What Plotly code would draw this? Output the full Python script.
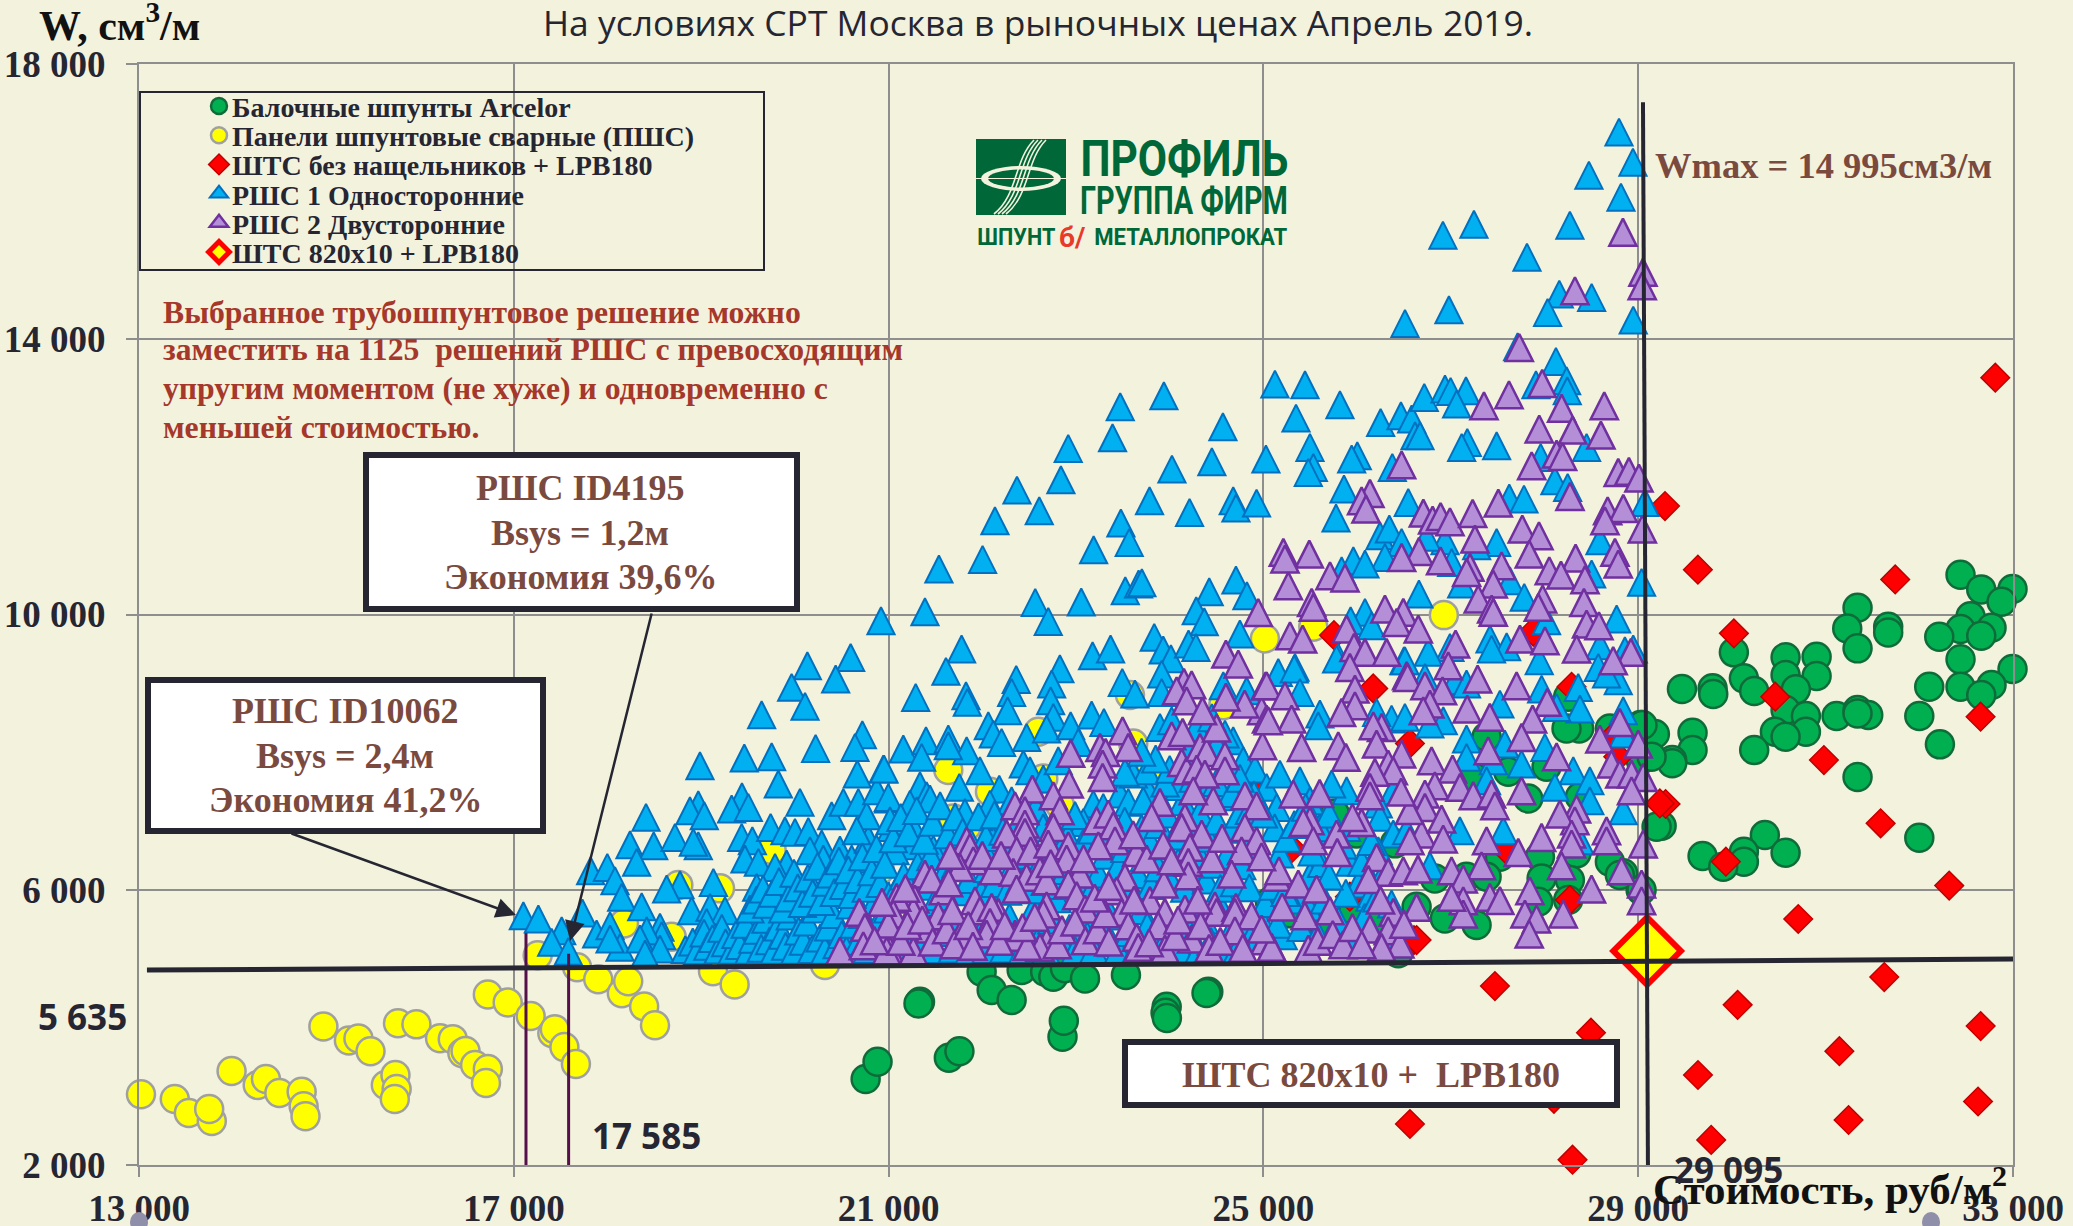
import plotly.graph_objects as go

# ---------- tick labels ----------
x_ticks = [13000, 17000, 21000, 25000, 29000, 33000]
x_labels = ["13 000", "17 000", "21 000", "25 000", "29 000", "33 000"]
y_ticks = [2000, 6000, 10000, 14000, 18000]
y_labels = ["2 000", "6 000", "10 000", "14 000", "18 000"]

# ---------- series values (cost, W) ----------
arcelor = [(32440,10578),(32661,10365),(32995,10370),(32878,10186),(32547,9974),(32771,9808),(32440,9789),(32661,9692),(32213,9677),(32440,9348),(32995,9207),(32440,8951),(32106,8951),(32771,8975),(32661,8830),(32000,8525),(32220,8113),
(31341,10099),(31231,9798),(31341,9508),(31668,9823),(31668,9740),(30573,9377),(30904,9387),(30573,9120),(30904,9106),(30021,9450),(30128,9072),(30238,8888),(30683,8912),(29794,8927),(29801,8844),(29467,8917),(30573,8612),(30790,8525),(30459,8297),(30790,8297),(30573,8224),(30238,8031),(31117,8525),(31341,8612),(31455,8539),(31341,8563),(31341,7638),(32000,6757),(30352,6796),(30573,6539),(30128,6553),(30128,6408),(29687,6491),(29908,6336),(29580,8282),(29580,8031),(29363,7885),(29363,7837),(29250,6931),(29026,7885),(29178,8263),(29026,8394),(28840,6239),(29026,5997),
(28370,8344),(28235,8344),(28698,8344),(29046,8393),(28253,8805),(27382,8223),(28022,7788),(27613,7715),(28378,7352),(27826,7327),(27239,7642),(26404,6674),(25994,6819),(25763,7109),(27524,6480),(27951,6480),(28342,6529),(28698,6407),(27168,6189),(27382,6189),(26830,6165),(27969,6165),(28271,6141),(28804,6214),(29036,5996),(27933,5826),(28253,5850),(27275,5487),(26937,5584),(26635,5753),(25959,5705),(26190,5560),(25070,5826),(25283,5657),(25621,5535),(26439,5076),(29196,6916),(29143,7933),
(21993,4809),(22100,4543),(22420,4833),(22671,4809),(22758,4737),(22882,4858),(23096,4712),(23533,4761),(24412,4518),(21335,4373),(22313,4397),(23968,4300),(20755,3250),(20882,3500),(21319,4346),(21643,3558),(21756,3654),(22856,3865),(22870,4096),(23956,4211),(23970,4135),(24393,4500),(24703,5192)]

panels = [(13021,3029),(13382,2959),(13532,2756),(13777,2640),(13749,2814),(13988,3365),(14267,3162),(14355,3249),(14498,3046),(14736,3063),(14757,2855),(14777,2710),(14968,4013),(15240,3810),(15342,3839),(15471,3653),(15634,3162),(15737,3307),(15750,3104),(15730,2959),(15764,4061),(15961,4044),(16213,3841),(16349,3829),(16451,3626),(16485,3655),(16587,3452),(16723,3394),(16703,3191),(16723,4479),(16935,4363),(17180,4165),(17411,3916),(17438,3974),(17540,3713),(17663,3469),(17255,5047),(17676,4873),(17901,4699),(18153,4496),(18221,4670),(18391,4305),(18507,4032),(19126,4815),(19357,4624),
(18756,6068),(19201,6020),(18176,5511),(18685,5318),(19752,6577),(20890,6286),(20321,4906),(21637,7739),(22082,7424),(21691,7037),(21833,6916),(22598,8296),(22651,7618),(22829,7230),(23576,8829),(23611,8126),(23789,7691),(24572,8683),(25016,9652),(20908,6286),(26926,9991),(25532,9822)]

shts = [(29637,10651),(31743,10510),(30021,9726),(30463,8805),(32654,8515),(30982,7885),(29292,7246),(31587,6965),(29936,6408),(32319,6060),(30708,5575),(32811,13442),(26564,2596),(28299,2077),(29638,3308),(29779,2365),(30061,4327),(31147,3654),(31245,2654),(31626,4731),(32655,4019),(32627,2923),(29286,11576),(27471,4601),(26607,5269),(28496,3923),(28101,2962),
(27880,9749),(25753,9700),(26172,8926),(26564,8126),(28289,8950),(28698,8175),(28787,7933),(27577,6601),(25301,6601),(25923,5899),(28271,5850),(26635,5269),(24885,7448),(29231,7255)]

rshs1 = [(28795,17010),(28944,16574),(28474,16385),(28816,16065),(28271,15658),(27247,15672),(26916,15513),(27813,15193),
(28158,14656),(28503,14608),(28033,14390),(26980,14428),(26511,14230),(28947,14278),(27713,13891),(28122,13678),(27909,13339),(28236,13397),(28243,13251),(25444,13339),(25817,13048),(25348,12854),(25497,12428),(25533,12138),(25479,12065),(26002,12307),(25942,12259),(26376,12138),(26251,12791),(26468,12888),(26582,12840),(26717,13155),(26938,13276),(26998,13242),(27162,13252),(27062,13058),(26618,12598),(26671,12598),(27176,12501),(27116,12428),(27489,12452),(25860,11823),(26546,11629),(25775,11402),(26244,11145),(26344,11242),(26475,11048),(26297,10830),(25960,10782),(26084,10733),(25835,10636),(26938,11072),(26742,11121),(27009,10757),(27489,11048),(27276,10999),(27624,11692),(27781,11677),(27959,12283),(28111,11944),(28247,11847),(28449,12428),(28592,11072),(28503,10588),(29036,10467),(29072,11629),(26660,10297),(27116,10443),(27631,10491),(27784,10249),(26084,10031),(25931,9910),(26155,9837),(28770,9934),(26991,9522),(27418,9643),(27596,9532),(26760,9450),(27944,9329),(28947,9498),(28592,9547),(26500,9329),(25799,9377),(25337,9232),
(21537,10661),(22003,10801),(21388,10041),(22135,11363),(22370,11808),(22608,11508),(22839,11958),(22917,12414),(23390,12569),(23472,13019),(23938,13179),(24568,12728),(24450,12220),(24024,12113),(23785,11653),(24212,11484),(24678,11653),(24707,11547),(24927,11619),(25027,12259),(25123,13348),(23479,11329),(23568,11048),(23188,10941),(23526,10346),(23668,10443),(23703,10462),(23056,10181),(22565,10176),(22704,9900),(21779,9498),(21612,9174),(24422,10331),(24707,10501),(24824,10273),(24283,10055),(24369,9895),(23835,9668),(23931,9484),(24013,9358),(24201,9571),(24280,9522),(24749,9716),(23177,9401),(23369,9498),(22828,9212),(22362,9057),
(20919,9909),(20595,9376),(20133,9255),(19965,8941),(20435,9062),(20108,8665),(19645,8543),(20221,8054),(19460,7914),(19752,7933),(18987,7802),(19823,7536),(20720,8253),(20641,8069),(20666,7681),(20944,7754),(20054,7270),(19435,7352),(19325,7173),(19503,7197),(18969,7236),(18880,7149),(19033,7076),(18411,7052),(18240,6655),(18493,6640),(18720,6761),(18969,6640),(18916,6689),(18311,6398),(17820,6277),(17998,6325),(18080,6132),(18151,5890),(19432,6761),(19546,6713),(19467,6446),(19610,6398),(19741,6906),(19894,6858),(20001,6834),(20143,6848),(20286,6664),(20481,6577),(20606,6446),(20784,6737),(20890,6519),(20392,7076),(20517,7270),(20677,7270),(20766,7076),(20873,7439),(20997,7318),(20659,6858),(21032,6906),(20161,6568),(20303,6446),(19912,6374),(19788,6325),(19592,6035),(19130,6107),(18774,6073),(18631,6010),
(17732,5662),(18365,5754),(17102,5623),(17262,5575),(17511,5405),(17404,5236),(17582,5105),(17884,5357),(18027,5478),(18134,5163),(18027,5284),(18560,5454),(18578,5333),(18418,5405),(18347,5284),(18560,5139),(18400,5066),(18898,5696),(19094,5744),(19254,5696),(19058,5526),
(21289,8795),(21826,8819),(21840,8723),(22313,8868),(22270,8602),(22740,8989),(22729,8747),(23494,9013),(23629,8844),(23914,9134),(23914,8868),(24572,8965),(24821,8892),(22064,8384),(22117,8262),(22206,8141),(22473,8214),(22758,8505),(22686,8335),(22943,8384),(23024,8141),(23167,8539),(23298,8432),(21157,8045),(21399,8166),(21353,7924),(21637,8190),(21833,8020),(21975,7730),(21637,8093),(22438,7827),(22509,7730),(22651,7609),(22811,7875),(20951,7754),(21335,7512),(21406,7366),(21442,7318),(21228,7245),(20997,7342),(21755,7488),(22181,7463),(22082,7245),(22313,7294),(21815,7124),(21264,6906),(21655,6664),(21477,6591),(21264,6640),(21068,6567),(21015,7003),(22171,6906),(22082,6810),(22011,6616),(23185,7245),(23291,7197),(23078,6979),(23469,7391),(23558,7270),(23771,7439),(23718,7294),(23611,7681),(23754,7730),(23523,7706),(23896,8359),(24021,8456),(24287,8359),(24678,8166),(24785,7875),(24910,7754),(25034,7488),(24590,8262),(25141,7197),(24500,6858),
(25159,9158),(25329,9207),(25390,8868),(25781,9352),(26510,9328),(26724,9086),(27044,9037),(27168,8989),(27524,8698),(27435,9497),(28022,9909),(28574,9231),(28858,9473),(27969,8916),(28360,8940),(28787,9037),(28662,9134),(28378,8626),(28129,8650),(28840,8602),(25603,8553),(25585,8384),(26368,8480),(26510,8505),(26208,8577),(26920,8456),(26777,8408),(27168,8190),(27168,7924),(27577,8117),(27755,7827),(28004,8069),(28307,7730),(28840,8262),(27453,7875),(27382,7584),(28111,7488),(28484,7584),(26386,7439),(26226,7245),(26244,7052),(25888,7439),(25728,7536),(25390,7584),(25497,7294),(25176,7681),(26386,6810),(26528,6858),(27097,6858),(26777,6349),(27560,6858),(28378,6713),(28840,7148),(28484,7294),(25728,6858),(25888,6906),(25923,6398),(26012,6083),(26137,5890),(26368,5793),(26226,6567),(25176,6519),(25354,5938),(25497,6204),(25212,5333),(24981,5550),
(18830,5130),(18910,5240),(18960,5115),(19030,5370),(19070,5180),(19120,5290),(19180,5125),(19220,5440),(19260,5230),(19330,5120),(19370,5350),(19410,5190),(19470,5500),(19510,5120),(19550,5280),(19600,5410),(19640,5150),(19690,5570),(19730,5260),(19780,5120),(19820,5460),(19870,5340),(19900,5180),(19950,5620),(20000,5120),(20040,5400),(20090,5250),(20130,5530),(20180,5130),(20220,5720),(20270,5300),(20320,5120),(20360,5460),(20410,5640),(20450,5200),(20500,5350),(20550,5120),(20590,5780),(20630,5500),(20680,5250),(20720,5640),(20770,5130),(20810,5390),(20860,5840),(20900,5550),(20950,5210),(20990,5720),
(19520,5720),(19590,5850),(19660,6010),(19700,5790),(19760,5950),(19830,6120),(19870,5720),(19930,5880),(19990,6240),(20030,6030),(20080,5800),(20140,6170),(20190,5950),(20240,6340),(20280,5830),(20330,6110),(20380,6230),(20420,5960),(20470,6420),(20520,6060),(20570,6290),(20610,5930),(20670,6150),(20720,6480),(20760,6020),(20820,6260),(20870,6600),(20910,6090),(20960,6370),(21000,5910),
(21060,5130),(21150,5320),(21220,5120),(21300,5480),(21360,5230),(21430,5620),(21490,5130),(21560,5380),(21610,5760),(21680,5140),(21740,5510),(21800,5270),(21860,5120),(21920,5620),(21970,5330),(22040,5130),(22090,5800),(22160,5440),(22230,5140),(22290,5600),(22350,5250),(22430,5125),(22490,5480),(22550,5730),(22610,5300),(22680,5120),(22740,5560),(22800,5870),(22860,5200),(22930,5440),(22990,5120),(23060,5660),(23120,5330),(23190,5130),(23250,5500),(23310,5790),(23380,5230),(23450,5120),(23500,5620),(23570,5380),(23640,5130),(23700,5700),(23760,5470),(23830,5210),(23900,5120),(23970,5600),(24030,5340),(24110,5130),(24170,5490),(24240,5820),(24310,5120),(24370,5560),(24440,5250),(24510,5120),(24570,5680),(24640,5360),(24720,5130),(24790,5520),(24860,5290),
(21080,5990),(21160,6200),(21240,5880),(21310,6350),(21380,6050),(21450,6480),(21520,5900),(21590,6240),(21650,6040),(21720,6380),(21790,5970),(21860,6150),(21930,6470),(21990,5960),(22060,6310),(22130,6090),(22200,6490),(22270,5980),(22340,6380),(22400,6130),(22470,6500),(22540,6000),(22610,6350),(22670,6120),(22750,6470),(22820,6060),(22890,6280),(22960,6530),(23030,6100),(23100,6370),(23170,6000),(23240,6230),(23310,6500),(23380,6080),(23450,6340),(23520,6600),(23590,5990),(23660,6220),(23730,6470),(23800,6060),(23880,6320),(23950,6640),(24020,6110),(24090,6400),(24160,6020),(24240,6290),(24310,6520),(24390,6140),(24460,6370),(24540,6020),(24610,6500),(24690,6100),(24770,6350),(24850,6030),(24930,6600),
(21050,6740),(21130,7050),(21210,6830),(21300,7150),(21380,6720),(21470,6980),(21550,7220),(21630,6800),(21710,7060),(21790,6840),(21880,6680),(21960,7060),(22040,6760),(22130,7090),(22220,6850),(22320,6700),(22400,7000),(22490,6770),(22570,7190),(22650,6900),(22730,6680),(22820,6980),(22910,6770),(22990,7080),(23080,6690),(23170,6870),(23250,6670),(23340,6850),(23430,6720),(23520,7000),(23610,6760),(23700,6890),(23790,6700),(23880,6950),(23970,7100),(24060,6780),(24140,7280),(24230,6900),(24320,7120),(24410,6750),(24500,7000),(24580,7350),(24660,6880),(24740,7100),(24830,6720),(24900,7380),
(24100,7500),(24250,7620),(24400,7450),(24500,7560),(24660,7400),(24750,7620),(24850,7150),(23950,7550),(24000,7750),(23850,7900),(23700,8000),(24200,8000),(24450,8500),(24500,8100),
(25020,5800),(25150,5500),(25290,5850),(25400,5450),(25480,5750),(25580,5350),(25650,5850),(25800,5550),(25880,5950),(25960,5300),(26080,5600),(26210,5880),(26300,5260),(25120,6900),(25250,6750),(25330,6950),(25450,7200),(25600,6900),(25700,7100),(25850,6650),(25000,7100),(26050,6400),(26150,6700),(26290,6250),(25100,6050),(25230,5960),(25620,6380),(25700,6200),(25520,6550)]

rshs2 = [(28837,15556),(29051,14975),(28325,14704),(29043,14777),(27731,13881),(27976,13358),(27621,13193),(28183,12999),(28638,13034),(27354,13034),(27944,12695),(28300,12680),(28602,12607),(28129,12331),(28193,12297),(27863,12162),(26475,12176),(28787,12065),(28901,12080),(29008,11983),(28272,11716),(27507,11619),(26137,11760),(26048,11653),(26095,11532),(26707,11474),(26806,11372),(26891,11425),(26991,11348),(27233,11469),(28674,11508),(28841,11542),(28645,11363),(29044,11242),(27763,11242),(27941,11145),(27258,11096),(27838,10878),(28752,10903),(28787,10733),(28332,10820),(28051,10636),(28176,10573),(28432,10506),(27542,10709),(27205,10685),(27169,10612),(26660,10917),(26475,10830),(26891,10782),(25490,10878),(25213,10903),(25230,10806),(25711,10564),(25871,10530),(25266,10418),(27453,10443),(27293,10225),(27436,10079),(27453,10031),(27980,10225),(27934,10104),(28421,10176),(28449,9862),(28581,9837),(25515,10176),(25533,10104),(26297,10079),(26493,10031),(26422,9885),(26653,9789),(25888,9789),(25284,9692),(25419,9643),(25967,9522),(26084,9450),(26315,9450),(27051,9571),(27738,9643),(28005,9619),(28343,9498),(28922,9450),(28733,9329),(26529,9111),(26973,9256),
(24945,10030),(24600,9425),(24732,9280),(25023,8965),(24981,8602),(25034,8480),(24991,8093),(24152,9013),(24234,8979),(24074,8892),(24180,8747),(23497,8311),(23558,8069),(23256,8069),(23316,7996),(23284,7827),(23284,7633),(22943,7982),(22928,7536),(22534,7463),(22758,7366),(22829,7149),(22758,6906),(22349,7221),(22455,7149),(22455,6955),(22455,6834),(22260,6810),(22366,6567),(22516,6567),(22704,6664),(22918,6640),(22900,6446),(23220,7003),(23345,7100),(23398,6931),(23416,6713),(23238,6640),(21833,6713),(21868,6616),(21904,6422),(21762,6325),(22117,6277),(22331,6253),(22473,6180),(22615,6277),(22686,6132),(23042,6228),(22918,6083),(23007,5914),(23096,5720),(22366,6010),(22686,5768),(22651,5647),(21922,5841),(21975,5696),(22171,5672),(22100,5744),(22082,5526),(22046,5357),(21762,5333),(21442,5430),(21584,5986),(21388,6228),(21459,6156),(21281,5865),(21264,5696),(21086,5890),(21050,5647),(20997,5357),(21015,5115),(21264,5110),(21530,5623),(22349,5357),(22349,5308),(22686,5236),(22615,5163),(23647,6543),(23754,6446),(23523,6180),(23434,5986),(23487,5672),(23558,5478),(23647,5308),(23665,5163),(23789,5842),(23938,6083),(23949,5672),(23878,5478),(23949,5139),(24163,5720),(24234,5284),(23896,7270),(23807,7051),(24163,7051),(24128,6906),(24341,6810),(24216,6616),(24199,6398),(24199,6204),(24021,8238),(24138,8287),(24128,7851),(24181,7730),(24323,8069),(24394,7996),(24287,7754),(24590,7948),(24590,7730),(24376,7681),(24465,7294),(24252,7439),(24803,7366),(24927,7221),(24803,6906),(24927,6713),(24767,6567),(24661,6228),(24483,5768),(24500,5672),(24707,5744),(24696,5672),(24874,5623),(24696,5405),(25016,5260),(25088,5163),(25141,6180),
(25923,9231),(26539,9086),(26724,8965),(26912,8892),(27286,9062),(27702,8965),(28029,8723),(26777,8698),(26706,8601),(27175,8626),(27417,8505),(27873,8480),(27755,8214),(25977,8916),(25977,8674),(25834,8577),(25034,8965),(25230,8819),(25301,8480),(25052,8456),(25408,8069),(26261,8359),(26173,8384),(26208,8117),(26475,7972),(26332,7827),(26386,7730),(25799,8093),(25881,7924),(26190,7706),(26137,7488),(26137,7366),(26795,7875),(27019,7754),(26830,7512),(27098,7488),(26724,7391),(27239,7367),(27435,7391),(27471,7221),(26724,7197),(27755,7439),(27399,8020),(28129,7933),(28591,8190),(28804,8432),(29000,8117),(28715,7827),(28804,7681),(28929,7681),(29053,7633),(28929,7439),(25319,7391),(25497,7003),(25425,6979),(25532,6713),(26048,6979),(25781,6810),(25788,6543),(26688,6810),(26902,7027),(26919,6737),(26564,6713),(27382,6713),(27328,6349),(27008,6277),(27133,6156),(27133,5841),(27133,5647),(27008,5890),(27417,5890),(27524,5842),(27720,6543),(27969,6761),(27844,5986),(27791,5647),(27915,5575),(27837,5357),(28200,5647),(28502,6010),(28342,7173),(28324,7003),(28164,7100),(28289,6810),(28289,6664),(28182,6349),(28662,6858),(28662,6713),(29053,6664),(28822,6277),(29036,6083),(29036,5841),(25166,6277),(25372,6083),(25568,6010),(25443,5623),(25710,5696),(26208,6470),(26332,6253),(26493,6277),(26635,5744),(26386,5672),(26137,5430),(26332,5405),(26457,5212),(26261,5163),(25479,5139),(25087,5163),(24981,5430),
(20687,5672),(20748,5454),(20481,5110),(20730,5187),(20979,5110),(20997,5502),
(20850,5260),(21130,5250),(21200,5480),(21360,5560),(21470,5240),(21620,5420),(21700,5200),(21680,5700),(21850,5480),(21900,5180),(22180,5250),(22240,5480),(22480,5180),(22430,5450),(22560,5600),(22800,5200),(22850,5420),(22990,5530),(23100,5260),(23230,5420),(23350,5240),(23310,5650),(23200,5880),(23350,6050),(23620,5850),(23780,5230),(24060,5320),(24090,5560),(24330,5480),(24420,5150),(24300,5850),(24540,5250),(24780,5150),(21640,6100),(21660,6500),(22000,6500),(22200,6500),(22730,6380),(23080,6450),(23610,6800),(23930,6650),(24020,6420),(24450,6450),(24560,6750),(24980,6480),(20930,5820),(21180,6020),(25200,5750),(25580,5250),(25740,5350),(25850,5200),(25950,5450),(26050,5200),(26120,6150),(26250,5850),(26500,5500),(26650,6300),(25600,7400),(25950,7050),(26560,7150),(26470,7420),(24500,8350),(24350,8600),(24800,8700),(24600,8800)]

selected_x = [29095]
selected_w = [5110]
wmax_line_x = [29051, 29104]
wmax_line_y = [17445, 2000]
budget_line_x = [13085, 33000]
budget_line_y = [4833, 4993]
id10062_x = [17130, 17130]
id10062_y = [5370, 2000]
id4195_x = [17585, 17585]
id4195_y = [5070, 2000]

BG = "#F3F2DD"
INK = "#262633"
BROWN = "#7B4A3F"
SERIF = "Liberation Serif"
GRID = "#8E8E8E"


def PX(x):
    return (x - 139) / 1874


def PY(y):
    return (1165 - y) / 1101


def pts(data):
    return [p[0] for p in data], [p[1] for p in data]


fig = go.Figure()


def series(data, name, symbol, size, fill, line, lw):
    xs, ys = pts(data)
    fig.add_trace(go.Scatter(x=xs, y=ys, mode="markers", name=name, cliponaxis=False,
                             marker=dict(symbol=symbol, size=size, color=fill,
                                         line=dict(color=line, width=lw))))


series(arcelor, "Балочные шпунты Arcelor", "circle", 28, "#00B050", "#0F6B3A", 2.5)
series(panels, "Панели шпунтовые сварные (ПШС)", "circle", 28, "#FFFF00", "#A0A0A0", 2.5)
series(shts, "ШТС без нащельников + LPB180", "diamond", 22, "#FF0000", "#C00000", 1.5)
series(rshs1, "РШС 1 Односторонние", "triangle-up", 24, "#00B0F0", "#0070C0", 2)
series(rshs2, "РШС 2 Двусторонние", "triangle-up", 24, "#B48FD8", "#7030A0", 2.5)


def line_trace(xs, ys, color, width):
    fig.add_trace(go.Scatter(x=xs, y=ys, mode="lines", showlegend=False, hoverinfo="skip",
                             cliponaxis=False, line=dict(color=color, width=width)))


line_trace(id10062_x, id10062_y, "#55104C", 3)
line_trace(id4195_x, id4195_y, "#55104C", 3)
series(list(zip(selected_x, selected_w)), "ШТС 820x10 + LPB180", "diamond", 52, "#FFFF00", "#FF0000", 6)
line_trace(budget_line_x, budget_line_y, INK, 5)
line_trace(wmax_line_x, wmax_line_y, INK, 4)

shapes = []
annotations = []


def box(x0, y0, x1, y1, fill="white", line=INK, lw=6):
    shapes.append(dict(type="rect", xref="paper", yref="paper", x0=PX(x0), x1=PX(x1), y0=PY(y0), y1=PY(y1),
                       fillcolor=fill, line=dict(color=line, width=lw), layer="above"))


def text(x, y, s, size, color=BROWN, family=SERIF, bold=True, anchor="center"):
    annotations.append(dict(xref="paper", yref="paper", x=PX(x), y=PY(y), text=f"<b>{s}</b>" if bold else s,
                            showarrow=False, xanchor=anchor, yanchor="middle",
                            font=dict(family=family, size=size, color=color)))


def arrow(x0, y0, x1, y1):
    annotations.append(dict(xref="paper", yref="paper", x=PX(x1), y=PY(y1), text="", showarrow=True,
                            axref="pixel", ayref="pixel", ax=x0 - x1, ay=y0 - y1,
                            arrowhead=2, arrowsize=1.6, arrowwidth=2.5, arrowcolor=INK))


# legend frame
box(140, 92, 764, 270, fill="rgba(0,0,0,0)", lw=2)

# callouts
box(366, 455, 797, 609)
text(580, 488, "РШС ID4195", 36)
text(580, 533, "Bsys = 1,2м", 36)
text(580, 577, "Экономия 39,6%", 36)
box(148, 680, 543, 831)
text(345, 711, "РШС ID10062", 36)
text(345, 756, "Bsys = 2,4м", 36)
text(345, 800, "Экономия 41,2%", 36)
box(1125, 1042, 1617, 1105)
text(1371, 1075, "ШТС 820x10 +  LPB180", 36)
arrow(290, 833, 516, 915)
arrow(652, 612, 570, 941)

text(1653, 165, "Wmax = 14 995см3/м", 36.5, anchor="left")

# paragraph
RED = "#A5382B"
for yy, s in zip([312, 350, 388, 427],
                 ["Выбранное трубошпунтовое решение можно",
                  "заместить на 1125  решений РШС с превосходящим",
                  "упругим моментом (не хуже) и одновременно с",
                  "меньшей стоимостью."]):
    text(161, yy, s, 31.7, color=RED, anchor="left")

# titles and axis captions
text(1038, 22, "На условиях СРТ Москва в рыночных ценах Апрель 2019.", 35.4, color=INK, family="Open Sans", bold=False)
text(37, 22, "W, см<sup>3</sup>/м", 42, color="#111111", anchor="left")
text(1651, 1186, "Стоимость, руб/м<sup>2</sup>", 43, color="#111111", anchor="left")
text(82, 1016, "5 635", 35, color=INK, family="Open Sans")
text(646, 1135, "17 585", 35, color=INK, family="Open Sans")
text(1728, 1169, "29 095", 35, color=INK, family="Open Sans")

# small slide dots at the bottom edge
for cx in (139, 1931):
    shapes.append(dict(type="circle", xref="paper", yref="paper", x0=PX(cx - 9), x1=PX(cx + 9), y0=PY(1212), y1=PY(1232),
                       fillcolor="#8F8FAA", line=dict(width=0), layer="above"))

# logo
LOGO = "#006838"
CREAM = "#F3F2DD"
box(976, 139, 1066, 215, fill=LOGO, line=LOGO, lw=0)


def ell(cx, cy, rx, ry, fill):
    shapes.append(dict(type="circle", xref="paper", yref="paper", layer="above", x0=PX(cx - rx), x1=PX(cx + rx),
                       y0=PY(cy + ry), y1=PY(cy - ry), fillcolor=fill, line=dict(width=0)))


def curve(x0, y0, c1x, c1y, c2x, c2y, x1, y1, w=1.6):
    shapes.append(dict(type="path", xref="paper", yref="paper", layer="above",
                       path=f"M {PX(x0)} {PY(y0)} C {PX(c1x)} {PY(c1y)} {PX(c2x)} {PY(c2y)} {PX(x1)} {PY(y1)}",
                       line=dict(color=CREAM, width=w)))


ell(1021, 178.5, 40, 12.5, CREAM)
ell(1021, 178.5, 33, 9, LOGO)
shapes.append(dict(type="line", xref="paper", yref="paper", layer="above", x0=PX(976), x1=PX(1066), y0=PY(178.5), y1=PY(178.5),
                   line=dict(color=CREAM, width=1.2)))
for d in (-6, -2, 2, 6):
    curve(1040 + d, 140, 1020 + d, 160, 1024 + d, 195, 1000 + d, 214)

text(1184, 159, "ПРОФИЛЬ", 50, color=LOGO, family="Roboto")
text(1184, 201, "ГРУППА ФИРМ", 38, color=LOGO, family="Roboto")
text(1016, 237, "ШПУНТ", 24, color=LOGO, family="Roboto")
text(1072, 237, "б/", 28, color="#E8392A", family="Roboto")
text(1191, 237, "МЕТАЛЛОПРОКАТ", 24, color=LOGO, family="Roboto")

fig.update_layout(
    width=2073, height=1226, autosize=False,
    margin=dict(l=139, r=60, t=64, b=61, pad=0),
    paper_bgcolor=BG, plot_bgcolor=BG,
    shapes=shapes, annotations=annotations,
    legend=dict(x=PX(192), y=PY(92), xanchor="left", yanchor="top", bgcolor="rgba(0,0,0,0)", borderwidth=0,
                font=dict(family=SERIF, size=28, color=INK, weight="bold"), tracegroupgap=0,
                itemclick=False, itemdoubleclick=False),
    xaxis=dict(range=[13000, 33000], tickmode="array", tickvals=x_ticks, ticktext=x_labels, automargin=False,
               showgrid=True, gridcolor=GRID, gridwidth=2, zeroline=False,
               showline=True, linecolor=GRID, linewidth=2, mirror=True,
               ticks="outside", ticklen=10, tickcolor=GRID, tickwidth=2,
               tickfont=dict(family=SERIF, size=37, color=INK, weight="bold")),
    yaxis=dict(range=[2000, 18000], tickmode="array", tickvals=y_ticks, ticktext=y_labels, automargin=False,
               showgrid=True, gridcolor=GRID, gridwidth=2, zeroline=False,
               showline=True, linecolor=GRID, linewidth=2, mirror=True,
               ticks="outside", ticklen=11, tickcolor=GRID, tickwidth=2, ticklabelstandoff=13,
               tickfont=dict(family=SERIF, size=37, color=INK, weight="bold")),
)

# Plotly's triangle-up is wider than tall; the reference triangles are as tall as wide.
# The reference legend packs its rows tighter than Plotly's own row height.
# The logo lettering is condensed, and no condensed face is installed.
POST = """
document.body.style.margin='0';
document.body.style.background='#F3F2DD';
document.querySelectorAll('.scatterlayer .trace path.point').forEach(function(p){
  if(p.getAttribute('d').indexOf('H')<0) return;
  p.setAttribute('transform', p.getAttribute('transform')+' scale(0.98,1.5) translate(0,3)');
  p.setAttribute('vector-effect','non-scaling-stroke');
});
document.querySelectorAll('.legend .traces').forEach(function(t,i){
  t.setAttribute('transform','translate(0,'+(14+i*29.2)+')');
  var s=t.querySelector('.legendsymbols');
  if(s) s.setAttribute('transform','translate(7,0)');
});
var logoWidths={'ПРОФИЛЬ':208,'ГРУППА ФИРМ':208,'ШПУНТ':78,'МЕТАЛЛОПРОКАТ':193};
document.querySelectorAll('.annotation-text').forEach(function(t){
  var w=logoWidths[t.textContent.trim()];
  if(!w) return;
  t.setAttribute('textLength',w);
  t.setAttribute('lengthAdjust','spacingAndGlyphs');
});
"""
fig.write_html("out.html", post_script=POST, config={"displayModeBar": False})
